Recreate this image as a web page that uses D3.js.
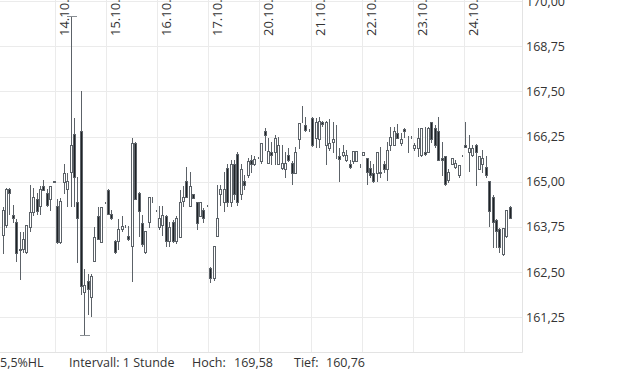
<!DOCTYPE html>
<html>
<head>
<meta charset="utf-8">
<script src="https://cdnjs.cloudflare.com/ajax/libs/d3/7.8.5/d3.min.js"></script>
<style>
  body { margin: 0; background: #fff; }
  svg text { font-family: "Open Sans", sans-serif; fill: #333; }
  .grid line { stroke: #ebebeb; shape-rendering: crispEdges; }
  .grid .domain { display: none; }
</style>
</head>
<body>
<div id="chart"></div>
<script>
// day labels (first 16 candles belong to 13.10., then 15 per day)
var dayLabels = ["14.10.", "15.10.", "16.10.", "17.10.", "20.10.", "21.10.", "22.10.", "23.10.", "24.10."];
var preDayCount = 16;
var perDay = 15;

var yTicks = [161.25, 162.5, 163.75, 165, 166.25, 167.5, 168.75, 170];

var open = [
  163.52, 163.79, 164.81, 164.07, 163.90, 163.10, 163.13, 163.05, 163.74, 164.15, 164.51, 164.32, 164.87, 164.70, 164.51, 165.00, // 13.10.
  164.34, 163.32, 164.98, 164.79, 165.28, 166.33, 164.43, 166.41, 161.94, 162.25, 161.80, 162.80, 164.04, 163.32, 164.43, // 14.10.
  164.76, 164.12, 163.35, 163.35, 163.68, 163.77, 163.49, 163.21, 166.08, 164.70, 163.85, 163.05, 163.90, 164.45, 164.21, // 15.10.
  163.74, 163.79, 164.04, 163.35, 163.90, 163.35, 163.46, 164.48, 165.01, 164.32, 164.65, 164.43, 164.04, 164.23, 164.34, // 16.10.
  162.60, 162.33, 163.49, 164.65, 164.43, 165.39, 164.45, 165.48, 165.78, 164.65, 165.01, 165.20, 165.59, 165.50, 165.67, // 17.10.
  165.56, 166.41, 165.53, 165.83, 165.81, 165.50, 165.37, 165.34, 165.75, 165.53, 165.25, 166.19, 166.77, 166.58, 166.44, // 20.10.
  166.77, 166.22, 166.17, 166.66, 166.03, 165.94, 166.11, 165.94, 165.70, 165.75, 165.59, 165.48, 165.56, 165.56, 165.45, // 21.10.
  165.75, 165.67, 165.37, 165.23, 165.25, 165.25, 165.50, 165.34, 166.03, 166.03, 166.36, 166.08, 166.47, 166.25, 166.25, // 22.10.
  165.94, 165.94, 165.75, 165.83, 165.83, 166.66, 166.50, 166.39, 165.67, 165.70, 165.06, 165.50, 165.42, 165.20, 165.72, // 23.10.
  166.03, 165.83, 165.75, 166.03, 165.34, 165.48, 165.42, 165.01, 164.59, 163.93, 163.68, 162.99, 163.49, 164.29          // 24.10.
];
var high = [
  164.29, 164.84, 164.84, 164.37, 163.96, 163.60, 163.60, 163.79, 164.92, 164.84, 164.70, 164.87, 165.06, 164.79, 164.87, 165.03,
  164.51, 164.54, 165.50, 165.25, 169.58, 166.77, 165.12, 167.52, 162.58, 162.44, 162.44, 163.74, 164.29, 164.29, 164.45,
  164.79, 164.23, 163.38, 163.96, 164.04, 163.79, 163.77, 166.22, 166.11, 164.73, 164.07, 163.63, 164.59, 164.59, 164.23,
  164.32, 164.32, 164.07, 163.88, 163.93, 164.04, 164.76, 164.87, 165.42, 165.28, 164.67, 164.45, 164.43, 164.26, 164.37,
  162.63, 163.21, 164.92, 164.92, 165.28, 165.48, 165.61, 165.61, 165.83, 165.48, 165.20, 165.67, 165.75, 165.72, 165.69,
  166.08, 166.50, 166.22, 166.11, 166.30, 166.25, 166.03, 165.83, 165.94, 165.56, 165.97, 166.63, 167.10, 166.80, 166.47,
  166.80, 166.77, 166.80, 166.69, 166.69, 166.74, 166.66, 166.58, 165.94, 166.03, 165.89, 165.61, 165.86, 165.86, 165.48,
  165.83, 165.67, 165.56, 165.48, 165.83, 165.97, 165.56, 166.11, 166.52, 166.52, 166.61, 166.36, 166.50, 166.27, 166.27,
  166.08, 166.50, 166.50, 166.52, 166.52, 166.66, 166.58, 166.80, 166.11, 165.72, 165.34, 165.67, 165.61, 165.45, 165.75,
  166.66, 166.30, 166.03, 166.05, 165.72, 165.89, 165.70, 165.03, 164.62, 163.96, 163.71, 163.71, 164.21, 164.32
];
var low = [
  163.02, 163.74, 164.10, 163.90, 162.80, 162.30, 163.05, 163.02, 163.63, 164.07, 164.10, 164.10, 164.76, 164.34, 164.23, 164.98,
  163.30, 163.30, 164.70, 164.32, 164.32, 164.32, 162.77, 161.89, 160.76, 161.34, 161.28, 162.80, 163.41, 163.32, 164.40,
  164.10, 163.96, 163.02, 163.13, 163.63, 163.74, 163.38, 162.25, 164.51, 163.49, 163.21, 163.02, 163.74, 164.43, 164.18,
  163.68, 163.54, 163.21, 163.21, 163.32, 163.30, 163.46, 164.32, 164.59, 164.32, 164.54, 163.68, 164.04, 163.90, 164.32,
  162.22, 162.27, 163.49, 164.37, 164.18, 164.34, 164.34, 164.51, 164.37, 164.51, 164.79, 165.12, 165.28, 165.45, 165.65,
  165.53, 165.89, 165.53, 165.48, 165.48, 165.50, 165.34, 165.14, 165.56, 164.95, 165.25, 165.94, 166.66, 166.39, 166.41,
  166.00, 165.97, 165.97, 166.55, 165.50, 165.89, 165.83, 165.67, 165.01, 165.70, 165.56, 165.39, 165.53, 165.56, 165.42,
  165.75, 164.95, 165.14, 164.98, 165.01, 165.14, 165.28, 165.06, 165.89, 166.03, 166.22, 166.03, 166.25, 165.83, 166.22,
  165.89, 165.70, 165.70, 165.75, 165.83, 166.11, 165.97, 165.61, 165.20, 164.92, 164.98, 165.48, 165.39, 165.14, 165.70,
  165.97, 165.31, 165.70, 164.92, 165.34, 165.28, 165.14, 163.77, 163.19, 163.19, 163.05, 162.96, 163.46, 163.99
];
var close = [
  164.23, 164.81, 164.70, 164.01, 163.02, 163.13, 163.41, 163.79, 164.15, 164.59, 164.18, 164.79, 164.76, 164.37, 164.87, 165.01,
  163.32, 164.48, 165.25, 165.03, 166.03, 165.12, 163.99, 162.11, 162.14, 162.03, 162.38, 163.46, 163.41, 164.29, 164.43,
  164.12, 163.99, 163.05, 163.68, 163.77, 163.77, 163.41, 166.08, 164.51, 164.18, 163.27, 163.63, 164.59, 164.45, 164.21,
  164.01, 164.07, 163.35, 163.74, 163.35, 163.99, 164.43, 164.59, 164.59, 164.87, 164.54, 163.85, 164.43, 164.01, 164.34,
  162.33, 163.21, 164.01, 164.81, 164.81, 164.45, 165.48, 164.65, 164.45, 165.34, 164.92, 165.56, 165.50, 165.64, 165.67,
  166.08, 166.28, 165.86, 165.75, 166.22, 166.03, 165.53, 165.53, 165.61, 165.23, 165.83, 166.63, 166.77, 166.44, 166.44,
  166.03, 166.66, 166.69, 166.61, 166.66, 166.08, 166.17, 165.94, 165.64, 165.83, 165.75, 165.42, 165.86, 165.86, 165.45,
  165.83, 165.28, 165.20, 165.01, 165.83, 165.28, 165.34, 165.89, 166.25, 166.39, 166.22, 166.17, 166.39, 166.25, 166.25,
  166.03, 166.22, 166.50, 165.78, 166.50, 166.17, 166.03, 165.61, 165.59, 164.95, 165.28, 165.67, 165.53, 165.45, 165.72,
  165.97, 165.94, 165.94, 165.81, 165.72, 165.67, 165.20, 164.18, 163.88, 163.63, 163.19, 163.71, 164.21, 163.99
];

var svgWidth = 620;
var svgHeight = 372;
var plotWidth = 521.5;
var plotTop = 1;
var plotBottom = 352;

var svg = d3.select("#chart")
  .append("svg")
  .attr("width", svgWidth)
  .attr("height", svgHeight);

var candles = open.map(function(o, i) {
  return { slot: i - preDayCount, o: o, h: high[i], l: low[i], c: close[i] };
});

// slot 0 = first hour of 14.10.
var xScale = d3.scaleLinear()
  .domain([-16.25, 137])
  .range([0, plotWidth]);

var yScale = d3.scaleLinear()
  .domain([160.29, 170])
  .range([plotBottom, plotTop]);

// horizontal grid
svg.append("g")
  .attr("class", "grid")
  .call(d3.axisLeft(yScale).tickValues(yTicks).tickSize(-plotWidth).tickFormat(""));

// vertical day lines
var dayX = dayLabels.map(function(d, i) { return Math.round(xScale(i * perDay)) + 0.5; });
svg.append("g")
  .attr("class", "grid")
  .selectAll("line")
  .data(dayX)
  .enter()
  .append("line")
  .attr("x1", d => d)
  .attr("x2", d => d)
  .attr("y1", 0)
  .attr("y2", plotBottom);

// plot frame (right + bottom)
svg.append("line")
  .attr("x1", Math.round(plotWidth) + 0.5).attr("x2", Math.round(plotWidth) + 0.5)
  .attr("y1", 0).attr("y2", plotBottom + 0.5)
  .attr("stroke", "#e3e3e3");
svg.append("line")
  .attr("x1", 0).attr("x2", Math.round(plotWidth) + 0.5)
  .attr("y1", plotBottom + 0.5).attr("y2", plotBottom + 0.5)
  .attr("stroke", "#e3e3e3");

// date labels
svg.append("g")
  .selectAll("text")
  .data(dayLabels)
  .enter()
  .append("text")
  .attr("transform", (d, i) => `translate(${dayX[i] + 13.5}, 36) rotate(-90)`)
  .style("font-size", "13px")
  .text(d => d);

// y axis labels on the right
var rightAxis = d3.axisRight(yScale)
  .tickValues(yTicks)
  .tickSize(0)
  .tickPadding(0)
  .tickFormat(d => d3.format(".2f")(d).replace(".", ","));
var yAxisG = svg.append("g")
  .attr("transform", `translate(526, 0)`)
  .call(rightAxis);
yAxisG.select(".domain").remove();
yAxisG.selectAll("text").style("font-size", "12.5px").attr("fill", "#333");

// candles
var chartGroup = svg.append("g").attr("shape-rendering", "crispEdges");
var cx = d => Math.round(xScale(d.slot + 0.5)) + 0.5;

chartGroup.selectAll(".wick")
  .data(candles)
  .enter()
  .append("line")
  .attr("class", "wick")
  .attr("x1", cx)
  .attr("x2", cx)
  .attr("y1", d => Math.round(yScale(d.h)))
  .attr("y2", d => Math.round(yScale(d.l)) + 1)
  .attr("stroke", "#5c6268");

chartGroup.selectAll(".body")
  .data(candles)
  .enter()
  .append("rect")
  .attr("class", "body")
  .attr("x", d => cx(d) - 1)
  .attr("width", 2)
  .attr("y", d => Math.round(yScale(Math.max(d.o, d.c))) + 0.5)
  .attr("height", d => Math.max(Math.round(yScale(Math.min(d.o, d.c))) - Math.round(yScale(Math.max(d.o, d.c))), 0))
  .attr("fill", d => d.c >= d.o ? "#fff" : "#1f2326")
  .attr("stroke", "#5c6268");

// markers at the highest high and lowest low
var hi = candles.reduce((a, b) => b.h > a.h ? b : a);
var lo = candles.reduce((a, b) => b.l < a.l ? b : a);
[[hi, hi.h], [lo, lo.l]].forEach(function(m) {
  chartGroup.append("line")
    .attr("x1", cx(m[0]) - 5)
    .attr("x2", cx(m[0]) + 5)
    .attr("y1", Math.round(yScale(m[1])) + 0.5)
    .attr("y2", Math.round(yScale(m[1])) + 0.5)
    .attr("stroke", "#8a8f94");
});

// footer info
var info = [
  { x: 0, t: "5,5%HL" },
  { x: 69, t: "Intervall: 1 Stunde" },
  { x: 192, t: "Hoch:" },
  { x: 234, t: d3.format(".2f")(hi.h).replace(".", ",") },
  { x: 294, t: "Tief:" },
  { x: 326, t: d3.format(".2f")(lo.l).replace(".", ",") }
];
svg.append("g")
  .selectAll("text")
  .data(info)
  .enter()
  .append("text")
  .attr("x", d => d.x)
  .attr("y", 367)
  .style("font-size", "12.5px")
  .text(d => d.t);
</script>
</body>
</html>
